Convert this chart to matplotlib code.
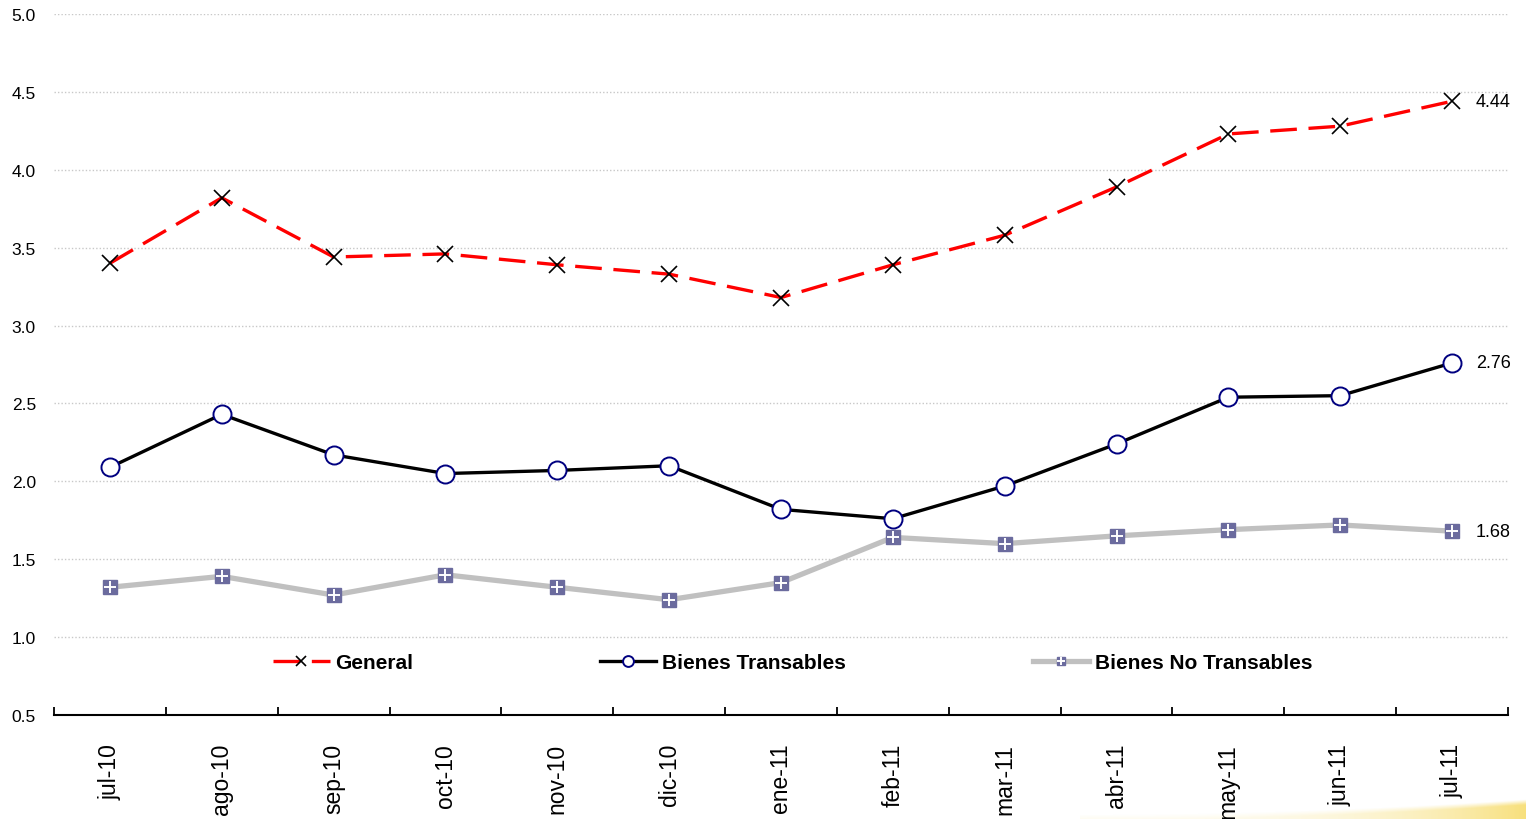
import numpy as np
import matplotlib
matplotlib.use('Agg')
import matplotlib.pyplot as plt
from matplotlib.ticker import FixedLocator

plt.rcParams['font.family'] = ['Liberation Sans', 'DejaVu Sans']

meses = ['jul-10', 'ago-10', 'sep-10', 'oct-10', 'nov-10', 'dic-10', 'ene-11',
         'feb-11', 'mar-11', 'abr-11', 'may-11', 'jun-11', 'jul-11']
general = [3.40, 3.82, 3.44, 3.46, 3.39, 3.33, 3.18, 3.39, 3.58, 3.89, 4.23, 4.28, 4.44]
transables = [2.09, 2.43, 2.17, 2.05, 2.07, 2.10, 1.82, 1.76, 1.97, 2.24, 2.54, 2.55, 2.76]
no_transables = [1.32, 1.39, 1.27, 1.40, 1.32, 1.24, 1.35, 1.64, 1.60, 1.65, 1.69, 1.72, 1.68]

x = np.arange(len(meses))

fig = plt.figure(figsize=(15.26, 8.2), dpi=100)

# faint yellow swoosh decoration, bottom right
deco = fig.add_axes([1080/1526, 0, 446/1526, 22/820])
gx, gy = np.meshgrid(np.linspace(0, 1, 300), np.linspace(0, 1, 30))
curve = 0.2 + 0.7 * gx**2
alpha = np.clip((curve - gy) * 4, 0, 1) * (0.08 + 0.6 * gx**3)
img = np.zeros(gx.shape + (4,))
img[..., 0], img[..., 1], img[..., 2] = 0.96, 0.82, 0.25
img[..., 3] = alpha
deco.imshow(img, origin='lower', aspect='auto', extent=(0, 1, 0, 1))
deco.axis('off')

ax = fig.add_axes([54/1526, 1 - 716/820, (1508 - 54)/1526, (716 - 15)/820])
ax.patch.set_alpha(0)

# grid
for yv in np.arange(1.0, 5.01, 0.5):
    ax.axhline(yv, color='#c8c8c8', lw=1.0, ls=(0, (1, 1.5)), zorder=0)

# Bienes No Transables
l3, = ax.plot(x, no_transables, '-', color='#c0c0c0', lw=3.8, marker='s', ms=10,
              mfc='#6b6b9e', mec='#6b6b9e', zorder=2)
p3, = ax.plot(x, no_transables, ls='none', marker='+', ms=9, mew=1.4, color='white', zorder=3)

# Bienes Transables
l2, = ax.plot(x, transables, '-', color='black', lw=2.4, marker='o', ms=13,
              mfc='white', mec='#000080', mew=1.4, zorder=4)

# General
l1, = ax.plot(x, general, color='#ff0000', lw=2.4, dashes=(8, 3.5), marker='x', ms=11,
              mec='black', mew=1.2, zorder=5)

for serie in [general, transables, no_transables]:
    ax.annotate('%.2f' % serie[-1], (x[-1], serie[-1]), xytext=(17, 0),
                textcoords='offset points', va='center', ha='left', fontsize=13)

ax.set_xlim(-0.5, len(meses) - 0.5)
ax.set_ylim(0.5, 5.0)
ax.set_yticks(np.arange(0.5, 5.01, 0.5))
ax.set_yticklabels(['%.1f' % v for v in np.arange(0.5, 5.01, 0.5)], fontsize=12.5)
ax.tick_params(axis='y', length=0, pad=13)

ax.set_xticks(x)
ax.set_xticklabels(meses, rotation=90, fontsize=16.5)
ax.xaxis.set_minor_locator(FixedLocator(np.arange(-0.5, len(meses), 1.0)))
ax.tick_params(axis='x', which='major', length=0, pad=20)
ax.tick_params(axis='x', which='minor', length=6, width=1.3, direction='in')

for s in ['top', 'right', 'left']:
    ax.spines[s].set_visible(False)
ax.spines['bottom'].set_linewidth(1.5)

leg = ax.legend([l1, l2, (l3, p3)], ['General', 'Bienes Transables', 'Bienes No Transables'],
                ncol=3, frameon=False, loc='center', bbox_to_anchor=(0.508, 0.075),
                prop={'weight': 'bold', 'size': 15}, handlelength=2.7, handletextpad=0.25,
                columnspacing=9.0, markerscale=0.6)

plt.savefig('out.png', dpi=100)
